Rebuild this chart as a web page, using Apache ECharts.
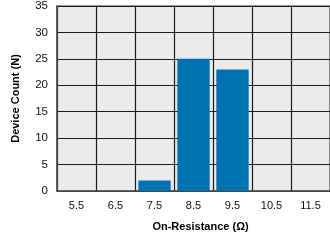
<!DOCTYPE html>
<html>
<head>
<meta charset="utf-8">
<script src="https://cdn.jsdelivr.net/npm/echarts@6/dist/echarts.min.js"></script>
<style>
html, body { margin: 0; padding: 0; background: #fff; }
#chart { width: 330px; height: 241px; }
</style>
</head>
<body>
<div id="chart"></div>
<script>
// on-resistance bins (ohm) and device counts
var resistanceBins = ['5.5', '6.5', '7.5', '8.5', '9.5', '10.5', '11.5'];
var deviceCounts = [0, 0, 2, 25, 23, 0, 0];
var yTicks = { min: 0, max: 35, step: 5 };

var chart = echarts.init( document.getElementById('chart') );
chart.setOption({
	animation: false,
	textStyle: { fontFamily: 'Liberation Sans, Arial, sans-serif' },
	grid: { left: 57, right: -4, top: 6, bottom: 50, show: true, backgroundColor: '#ebebeb', borderWidth: 1.5, borderColor: '#777' },
	xAxis: {
		type: 'category',
		data: resistanceBins,
		name: 'On-Resistance (\u03a9)',
		nameLocation: 'middle',
		nameGap: 30,
		nameTextStyle: { fontSize: 11, fontWeight: 'bold', color: '#000', padding: [0, 0, 0, 14] },
		axisLine: { lineStyle: { color: '#555', width: 1.5 } },
		axisTick: { show: false },
		axisLabel: { fontSize: 11, color: '#111', margin: 9 },
		splitLine: { show: true, lineStyle: { color: '#1a1a1a', width: 1.2 } }
	},
	yAxis: {
		type: 'value',
		min: yTicks.min,
		max: yTicks.max,
		interval: yTicks.step,
		name: 'Device Count (N)',
		nameLocation: 'middle',
		nameGap: 36,
		nameTextStyle: { fontSize: 11, fontWeight: 'bold', color: '#000' },
		axisLine: { show: true, lineStyle: { color: '#555', width: 1.5 } },
		axisTick: { show: false },
		axisLabel: { fontSize: 11.5, color: '#111', margin: 9 },
		splitLine: { show: true, lineStyle: { color: '#1a1a1a', width: 1.2 } }
	},
	series: [
		{
			type: 'bar',
			data: deviceCounts,
			barCategoryGap: '17%',
			itemStyle: { color: '#0072b2', borderWidth: 0 }
		}
	]
});
</script>
</body>
</html>
